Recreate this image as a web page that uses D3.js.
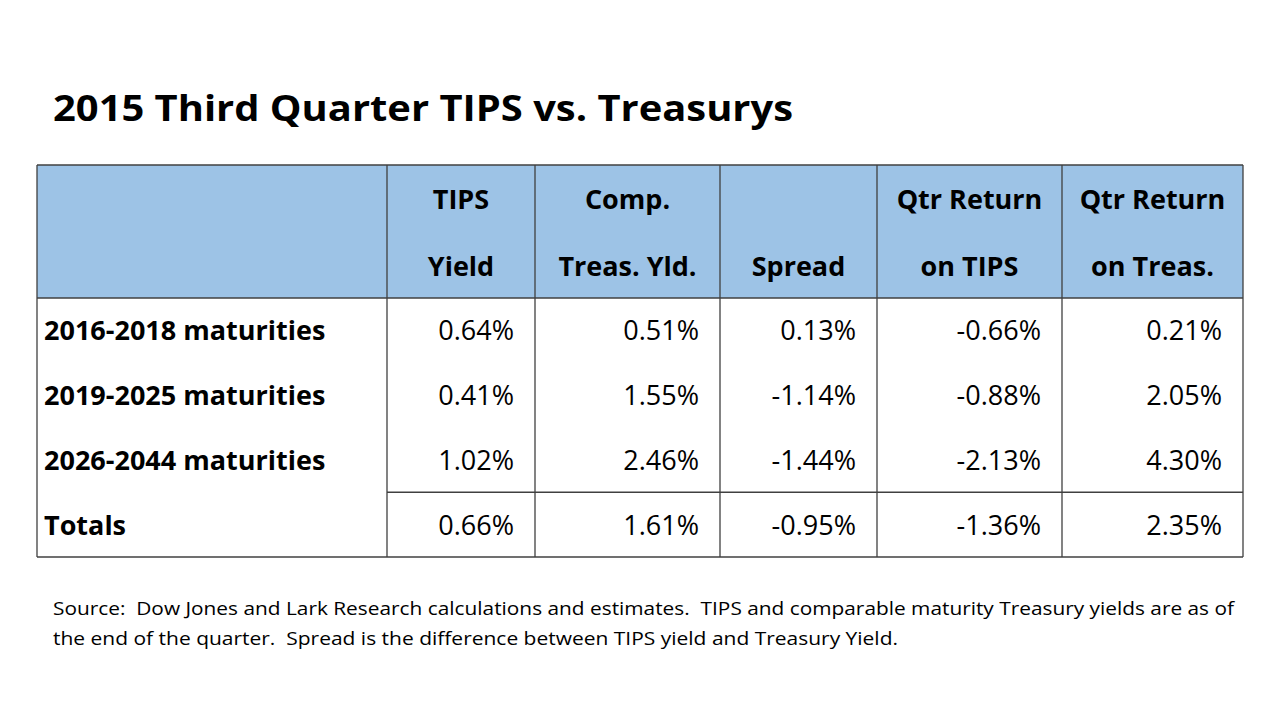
<!DOCTYPE html>
<html><head><meta charset="utf-8">
<script src="https://cdn.jsdelivr.net/npm/d3@7"></script>
<style>body{margin:0;background:#fff}svg{display:block}</style>
</head><body>
<svg id="chart" width="1280" height="720"></svg>
<script>
// chart data
var title = "2015 Third Quarter TIPS vs. Treasurys";
var headers = [["", ""], ["TIPS", "Yield"], ["Comp.", "Treas. Yld."], ["", "Spread"], ["Qtr Return", "on TIPS"], ["Qtr Return", "on Treas."]];
var rowLabels = ["2016-2018 maturities", "2019-2025 maturities", "2026-2044 maturities", "Totals"];
var tipsYield = ["0.64%", "0.41%", "1.02%", "0.66%"];
var treasYield = ["0.51%", "1.55%", "2.46%", "1.61%"];
var spread = ["0.13%", "-1.14%", "-1.44%", "-0.95%"];
var tipsReturn = ["-0.66%", "-0.88%", "-2.13%", "-1.36%"];
var treasReturn = ["0.21%", "2.05%", "4.30%", "2.35%"];
var source = ["Source:  Dow Jones and Lark Research calculations and estimates.  TIPS and comparable maturity Treasury yields are as of",
              "the end of the quarter.  Spread is the difference between TIPS yield and Treasury Yield."];

var svg = d3.select("#chart");
var font = "'Open Sans', sans-serif";
var colEdges = [37, 387, 535, 720, 877, 1062, 1243];
var tableTop = 165, headBottom = 298, tableBottom = 557;
var y = d3.scaleBand().domain(d3.range(rowLabels.length)).range([headBottom, tableBottom]);
var cols = [tipsYield, treasYield, spread, tipsReturn, treasReturn];

svg.append("text").attr("x", 53).attr("y", 121).attr("font-family", font)
  .attr("font-weight", "bold").attr("font-size", 36)
  .attr("textLength", 740).attr("lengthAdjust", "spacingAndGlyphs").text(title);

svg.append("rect").attr("x", colEdges[0]).attr("y", tableTop)
  .attr("width", colEdges[6] - colEdges[0]).attr("height", headBottom - tableTop)
  .attr("fill", "#9dc3e6");

var line = function (x1, y1, x2, y2) {
  svg.append("line").attr("x1", x1).attr("y1", y1).attr("x2", x2).attr("y2", y2)
    .attr("stroke", "#404040").attr("stroke-width", 1.3);
};
line(colEdges[0], tableTop, colEdges[6], tableTop);
line(colEdges[0], headBottom, colEdges[6], headBottom);
line(colEdges[0], tableBottom, colEdges[6], tableBottom);
line(colEdges[1], y(3), colEdges[6], y(3));
colEdges.forEach(function (x) { line(x, tableTop, x, tableBottom); });

headers.forEach(function (h, i) {
  var cx = (colEdges[i] + colEdges[i + 1]) / 2;
  h.forEach(function (t, j) {
    svg.append("text").attr("x", cx).attr("y", j ? 276 : 209)
      .attr("text-anchor", "middle").attr("font-family", font)
      .attr("font-weight", "bold").attr("font-size", 27).text(t);
  });
});

rowLabels.forEach(function (r, i) {
  var cy = y(i) + y.bandwidth() / 2 + 10;
  svg.append("text").attr("x", 44).attr("y", cy).attr("font-family", font)
    .attr("font-weight", "bold").attr("font-size", 27).text(r);
  cols.forEach(function (c, k) {
    svg.append("text").attr("x", colEdges[k + 2] - 21).attr("y", cy)
      .attr("text-anchor", "end").attr("font-family", font)
      .attr("font-size", 27).text(c[i]);
  });
});

var srcWidths = [1181, 845];
source.forEach(function (s, i) {
  svg.append("text").attr("x", 53).attr("y", 615 + i * 30).attr("font-family", font)
    .attr("font-size", 18).attr("textLength", srcWidths[i])
    .attr("lengthAdjust", "spacingAndGlyphs").attr("xml:space", "preserve").text(s);
});
</script>
</body></html>
